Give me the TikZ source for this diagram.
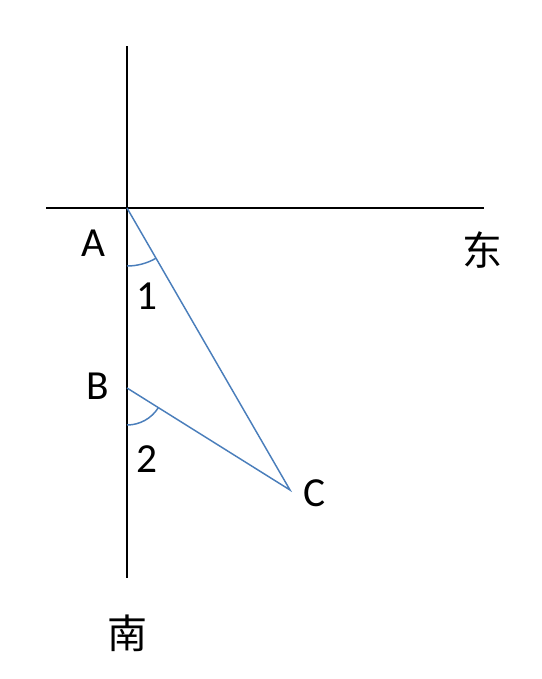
\documentclass[tikz,border=0pt]{standalone}
\usepackage{fontspec}
\setmainfont{Carlito}
\newfontfamily\cjk{Noto Sans CJK SC}
\definecolor{lineblue}{RGB}{74,126,187}
\begin{document}
\begin{tikzpicture}[x=0.75pt,y=-0.75pt]
	\tikzstyle{axis} = [line width=1.5pt,black]
	\tikzstyle{side} = [line width=1.1pt,lineblue]
	\tikzstyle{lbl} = [font=\fontsize{31}{31}\selectfont,inner sep=0pt]
	\useasboundingbox (0,0) rectangle (542,679);
		
		\coordinate (A) at (127,208);
		\coordinate (B) at (127,388);
		\coordinate (C) at (290,490);
		\coordinate (n) at (127,46);
		\coordinate (s) at (127,578);
		\coordinate (w) at (46,208);
		\coordinate (e) at (484,208);
		\coordinate (a1) at (127,266);
		\coordinate (a2) at (127,425);
		
		\draw[axis] (n) -- (s);
		\draw[axis] (w) -- (e);
		
		\draw[side] (A) -- (C) -- (B);
		\draw[side] (a1) arc[start angle=90,end angle=60,radius=58];
		\draw[side] (a2) arc[start angle=90,end angle=32,radius=37];
		
		\node[lbl] (la) at (93,243) {A};
		\node[lbl] (lb) at (98,386) {B};
		\node[lbl] (lc) at (315,493) {C};
		\node[lbl] (l1) at (147,296) {1};
		\node[lbl] (l2) at (147,459) {2};
		\node[lbl,font=\cjk\fontsize{30}{30}\selectfont] (east) at (482,250) {东};
		\node[lbl,font=\cjk\fontsize{30}{30}\selectfont] (south) at (127,633) {南};
		
\end{tikzpicture}
\end{document}
